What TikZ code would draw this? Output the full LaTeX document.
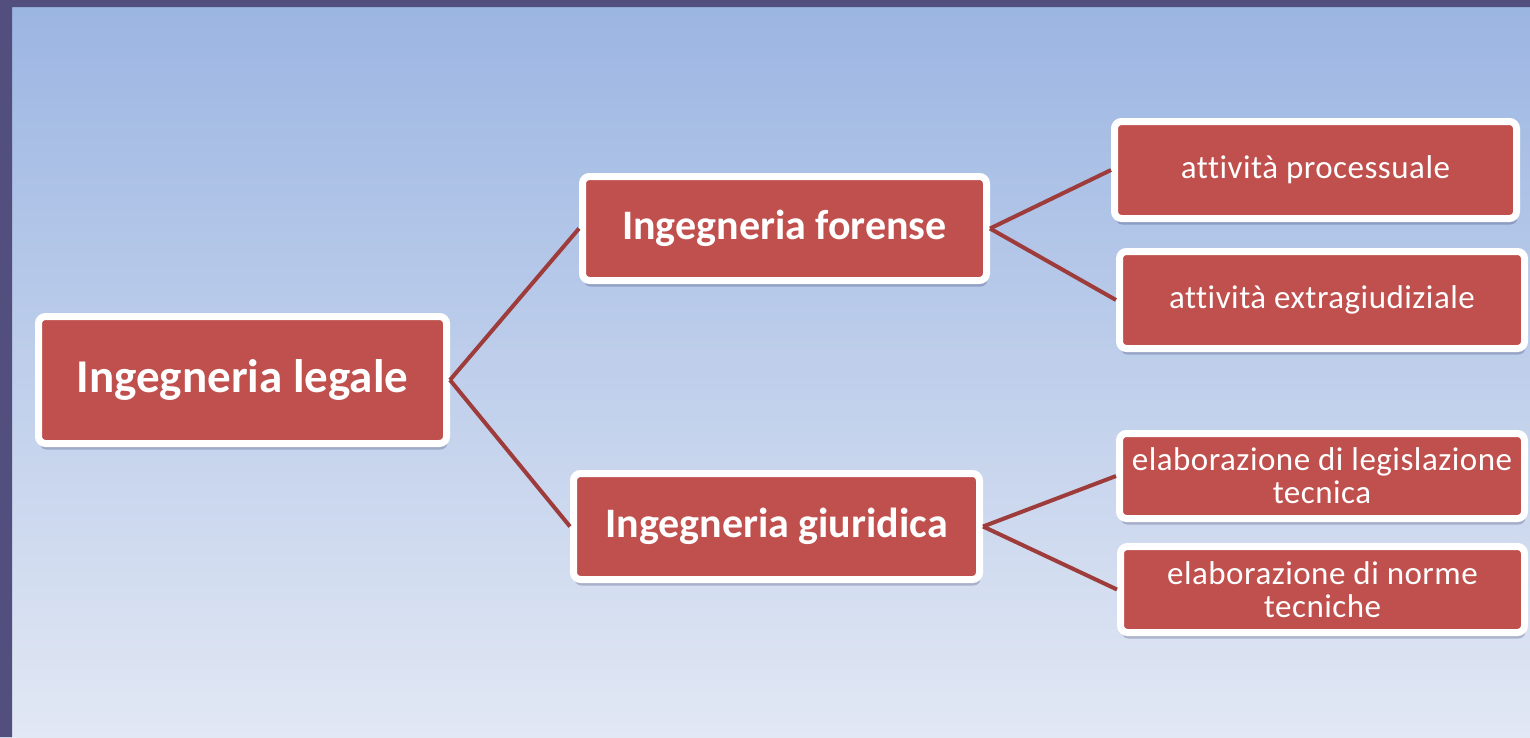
\documentclass[tikz,border=0pt]{standalone}
\usepackage{fontspec}
\setmainfont{Carlito}[Ligatures=NoCommon]
\usetikzlibrary{shadows}
\definecolor{boxred}{HTML}{C0504D}
\definecolor{linkred}{HTML}{9E3B3B}
\definecolor{bgtop}{HTML}{9BB5E2}
\definecolor{bgbottom}{HTML}{E2E8F4}
\definecolor{frameblue}{HTML}{524F7E}
\tikzset{
    box/.style={draw=white, line width=7pt, fill=boxred, rounded corners=7pt,
        text=white, align=center, inner sep=0pt,
        drop shadow={shadow xshift=1pt, shadow yshift=-6pt, opacity=.2, fill=black!80!blue}},
    bigbox/.style={box, font=\bfseries\fontsize{47}{50}\selectfont},
    midbox/.style={box, font=\bfseries\fontsize{42}{44}\selectfont},
    smallbox/.style={box, font=\addfontfeatures{LetterSpace=1.5}\fontsize{33}{33}\selectfont},
    link/.style={draw=linkred, line width=4pt}
}

\begin{document}
\begin{tikzpicture}[x=1pt, y=-1pt]
    \useasboundingbox (0,0) rectangle (1530,737);
    \shade[top color=bgtop, bottom color=bgbottom] (0,0) rectangle (1530,737);
    \fill[frameblue] (0,0) rectangle (12,737) (0,0) rectangle (1530,7);

    \node[bigbox, minimum width=408pt, minimum height=127pt] (legale) at (242.5,380) {Ingegneria legale};
    \node[midbox, minimum width=404pt, minimum height=104pt] (forense) at (784.5,228.5) {Ingegneria forense};
    \node[midbox, minimum width=406pt, minimum height=106pt] (giuridica) at (776.5,526.5) {Ingegneria giuridica};
    \node[smallbox, minimum width=402pt, minimum height=97pt] (processuale) at (1315.5,170) {attività processuale};
    \node[smallbox, minimum width=405pt, minimum height=97pt] (extragiud) at (1322,300) {attività extragiudiziale};
    \node[smallbox, minimum width=405pt, minimum height=85pt] (legislaz) at (1322,476) {elaborazione di legislazione\\tecnica};
    \node[smallbox, minimum width=404pt, minimum height=86pt] (norme) at (1322.5,589.5) {elaborazione di norme\\tecniche};

    \draw[link] (legale.east) -- (forense.west);
    \draw[link] (legale.east) -- (giuridica.west);
    \draw[link] (forense.east) -- (processuale.west);
    \draw[link] (forense.east) -- (extragiud.west);
    \draw[link] (giuridica.east) -- (legislaz.west);
    \draw[link] (giuridica.east) -- (norme.west);
\end{tikzpicture}
\end{document}
